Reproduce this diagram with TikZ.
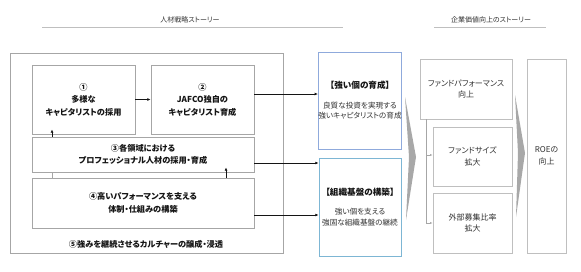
\documentclass[tikz,border=0pt]{standalone}
\usepackage{fontspec}
\setmainfont{Noto Sans CJK JP}[RawFeature=+palt]
\usetikzlibrary{arrows.meta,calc}
\definecolor{Frame}{RGB}{166,166,166}
\definecolor{LightFrame}{RGB}{191,191,191}
\definecolor{Ink}{RGB}{20,20,20}
\definecolor{SoftInk}{RGB}{50,50,50}
\definecolor{Steel}{RGB}{143,170,220}
\definecolor{Sky}{RGB}{125,182,212}
\definecolor{Wedge}{RGB}{168,168,168}

\begin{document}
\begin{tikzpicture}[x=1pt,y=-1pt,
    story/.style={font=\fontsize{7}{8}\selectfont,text=SoftInk},
    rule/.style={draw=LightFrame,line width=0.7pt},
    outbox/.style={draw=Frame,line width=0.8pt,inner sep=0pt},
    hrbox/.style={draw=Frame,line width=0.8pt,fill=white,align=center,inner sep=0pt,text=Ink,font=\bfseries\fontsize{8.2}{12.5}\selectfont},
    goalbox/.style={line width=0.9pt,fill=white,align=center,inner sep=0pt,text=SoftInk,font=\fontsize{7.6}{10.5}\selectfont},
    valbox/.style={draw=LightFrame,line width=0.8pt,fill=white,align=center,inner sep=0pt,text=SoftInk,font=\fontsize{8}{11.5}\selectfont},
    arr/.style={-{Latex[length=3.2pt,width=2.8pt]},line width=0.8pt,Ink},
    link/.style={line width=0.6pt,Frame},
    garr/.style={-{Latex[length=2.6pt,width=2.2pt]},line width=0.6pt,Frame},
    wedge/.style={fill=Wedge}
]
\useasboundingbox (0,0) rectangle (581,271);

% Story titles
\node[story] (t1) at (190,20) {人材戦略ストーリー};
\draw[rule] (42,27) -- (343,27);
\node[story] (t2) at (491,20) {企業価値向上のストーリー};
\draw[rule] (434,27) -- (546,27);

% Culture frame
\node[outbox,minimum width=273,minimum height=200] (culture) at (146.5,153) {};
\node[hrbox,draw=none,fill=none] (c5) at (146,244) {⑤強みを継続させるカルチャーの醸成・浸透};

% HR strategy boxes
\node[hrbox,minimum width=103,minimum height=69] (b1) at (83.5,99.5) {①\\多様な\\キャピタリストの採用};
\node[hrbox,minimum width=103,minimum height=69] (b2) at (202.5,99.5) {②\\JAFCO独自の\\キャピタリスト育成};
\node[hrbox,minimum width=222,minimum height=35] (b3) at (143,154.5) {③各領域における\\プロフェッショナル人材の採用・育成};
\node[hrbox,minimum width=222,minimum height=50] (b4) at (143,203) {④高いパフォーマンスを支える\\体制・仕組みの構築};

% Goal boxes
\node[goalbox,draw=Steel,minimum width=82,minimum height=97] (sA) at (360,100.5)
    {{\bfseries\fontsize{8.6}{10}\selectfont\color{Ink}【強い個の育成】}\\[9pt]良質な投資を実現する\\強いキャピタリストの育成};
\node[goalbox,draw=Sky,minimum width=82,minimum height=98] (sB) at (360,207)
    {{\bfseries\fontsize{8.6}{10}\selectfont\color{Ink}【組織基盤の構築】}\\[9pt]強い個を支える\\強固な組織基盤の継続};

% Value boxes
\node[valbox,minimum width=92,minimum height=60] (vC) at (466,89) {ファンドパフォーマンス\\向上};
\node[valbox,minimum width=79,minimum height=59] (vD) at (472.5,156.5) {ファンドサイズ\\拡大};
\node[valbox,minimum width=79,minimum height=60] (vE) at (472.5,223) {外部募集比率\\拡大};
\node[valbox,minimum width=39,minimum height=194] (vF) at (546.5,156) {ROEの\\向上};

% Wedges
\fill[wedge] (405,97) -- (416,157) -- (406,220) -- (409,157) -- cycle;
\fill[wedge] (515,95) -- (525,153) -- (516,217) -- (518,153) -- cycle;

% Connectors
\coordinate (liftL) at (52,0);
\coordinate (liftR) at (226,0);
\coordinate (trunk) at (426,0);
\draw[arr,line width=0.6pt] (b1.east) -- (b2.west);
\draw[arr,line width=0.6pt,shorten >=-5pt] (b3.north -| liftL) -- (b1.south -| liftL);
\draw[link] (b4.north -| liftL) -- (b3.south -| liftL);
\draw[arr,line width=0.6pt,shorten >=-5pt] (b4.north -| liftR) -- (b3.south -| liftR);
\draw[arr] ([yshift=5.5pt]b2.east) -- ([yshift=5.5pt]b2.east -| sA.west);
\draw[arr] ([yshift=-8.5pt]b3.east) -- ([yshift=-8.5pt]b3.east -| sB.west);
\draw[arr] ([yshift=-12pt]b4.east) -- ([yshift=-12pt]b4.east -| sB.west);
\draw[garr] (vC.south -| trunk) |- (vE.west);
\draw[garr] ([yshift=1.5pt]vD.west -| trunk) -- ([yshift=1.5pt]vD.west);

\end{tikzpicture}
\end{document}
